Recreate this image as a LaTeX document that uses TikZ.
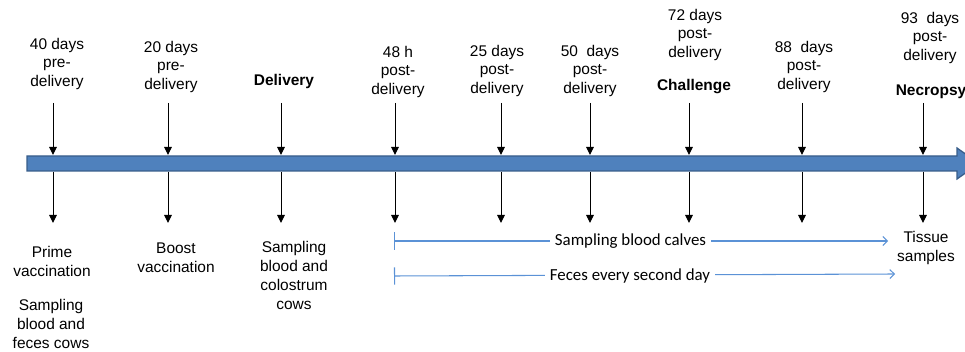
\documentclass[tikz,border=0pt]{standalone}
\usepackage{fontspec}
\setmainfont{Liberation Sans}
\newfontfamily\calfont{Carlito}
\usepackage{tikz}
\usetikzlibrary{arrows.meta}
\definecolor{bar blue}{RGB}{79,129,189}
\definecolor{bar edge}{RGB}{56,93,138}
\definecolor{span blue}{RGB}{91,146,214}
\tikzstyle{when}=[align=center,inner sep=0pt,font=\fontsize{11}{13.5}\selectfont]
\tikzstyle{what}=[when]
\begin{document}
\begin{tikzpicture}[
  x=0.025cm, y=-0.025cm,
  downarr/.style={-{Triangle[length=2mm,width=1.9mm]},line width=0.7pt},
  timebar/.style={fill=bar blue,draw=bar edge,line width=0.9pt},
  bluespan/.style={{Bar[width=4.3mm]}-{Straight Barb[length=1.1mm,width=2.2mm]},draw=span blue,line width=0.75pt},
  spantext/.style={fill=white,inner xsep=3.5pt,inner ysep=1pt,font=\calfont\fontsize{12}{14}\selectfont},
]
\useasboundingbox (0,0) rectangle (965,352);
% time line
\filldraw[timebar] (27,156) -- (957,156) -- (957,148) -- (979,163.5)
  -- (957,179) -- (957,171) -- (27,171) -- cycle;
% above the line
\node[when] (d40) at (57,64) {40 days\\pre-\\delivery};
\node[when] (d20) at (171,67) {20 days\\pre-\\delivery};
\node[when,font=\bfseries\fontsize{11}{13.5}\selectfont] (del) at (284,82) {Delivery};
\node[when] (h48) at (398,72) {48 h\\post-\\delivery};
\node[when] (d25) at (497,71) {25 days\\post-\\delivery};
\node[when] (d50) at (590,71) {50~ days\\post-\\delivery};
\node[when] (d72) at (695,35) {72 days\\post-\\delivery};
\node[when,font=\bfseries\fontsize{11}{13.5}\selectfont] (chal) at (694,87) {Challenge};
\node[when] (d88) at (804,67) {88~ days\\post-\\delivery};
\node[when] (d93) at (930,38) {93~ days\\post-\\delivery};
\node[when,font=\bfseries\fontsize{11}{13.5}\selectfont] (necro) at (931,92) {Necropsy};
% below the line
\node[what] (prime) at (52,261) {Prime\\vaccination};
\node[what] (cows) at (51,324) {Sampling\\blood and\\feces cows};
\node[what] (boost) at (176,258) {Boost\\vaccination};
\node[what] (colos) at (294,275) {Sampling\\blood and\\colostrum\\cows};
\node[what] (tissue) at (926,248) {Tissue\\samples};
% ticks
\foreach \x [count=\i] in {53,168,281,395,501,590,689,802,923} {
  \coordinate (up\i) at (\x,103);
  \coordinate (dn\i) at (\x,172);
  \draw[downarr] (up\i) -- ++(0,52);
  \draw[downarr] (dn\i) -- ++(0,51);
}
% sampling spans
\coordinate (s1) at (394,241);
\coordinate (e1) at (888,241);
\coordinate (s2) at (394,276);
\coordinate (e2) at (895,274);
\draw[bluespan] (s1) -- (e1);
\draw[bluespan] (s2) -- (e2);
\node[spantext] (calves) at (630.5,241) {Sampling blood calves};
\node[spantext] (feces) at (630,276) {Feces every second day};
\end{tikzpicture}
\end{document}
